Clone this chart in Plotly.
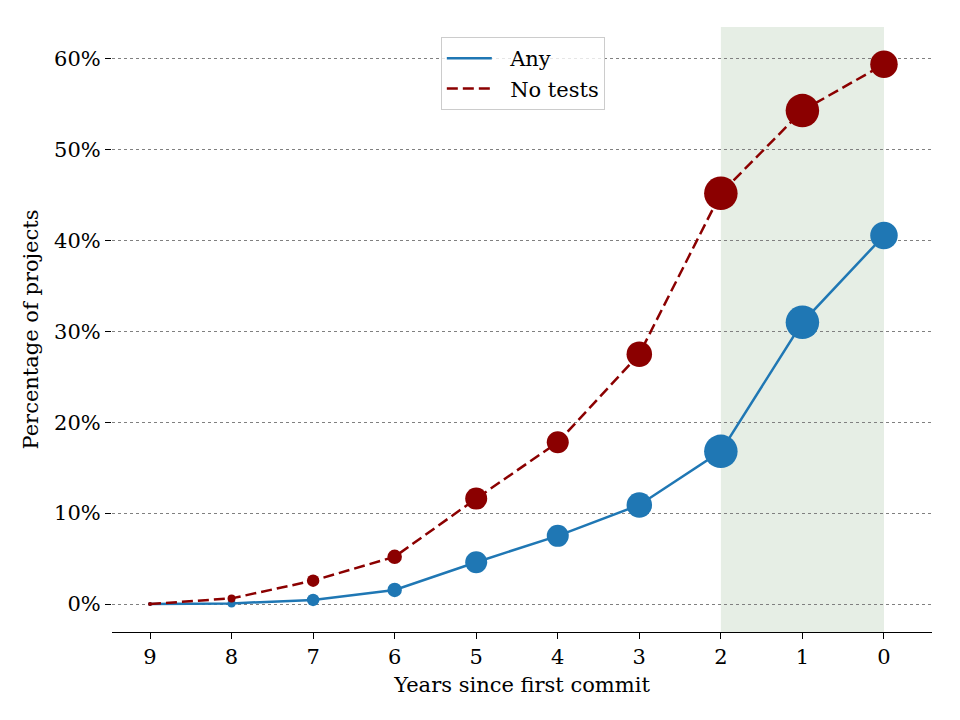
import plotly.graph_objects as go

years = [9, 8, 7, 6, 5, 4, 3, 2, 1, 0]
any_pct = [0.0, 0.07, 0.45, 1.55, 4.6, 7.5, 10.9, 16.8, 31.0, 40.55]
notests_pct = [0.0, 0.62, 2.57, 5.2, 11.6, 17.8, 27.5, 45.2, 54.3, 59.4]
marker_sizes = [4, 8, 12.5, 14.5, 22, 22, 25.5, 33.5, 33.5, 27.5]
y_ticks = [0, 10, 20, 30, 40, 50, 60]
y_labels = ["0%", "10%", "20%", "30%", "40%", "50%", "60%"]
series_names = ["Any", "No tests"]
shade_span = [2, 0]

FONT = "DejaVu Serif"
FS = 21
BLUE = "#1f77b4"
RED = "#8b0000"
DASH = "11px,5px"
PAD = "\u00a0\u00a0"

fig = go.Figure()

fig.add_vrect(x0=shade_span[0], x1=shade_span[1], fillcolor="#e6eee5",
              line_width=0, layer="below")

fig.add_trace(go.Scatter(
    x=years, y=any_pct, name=series_names[0], mode="lines+markers", showlegend=False,
    line=dict(color=BLUE, width=2.5),
    marker=dict(size=marker_sizes, color=BLUE, opacity=1, line=dict(width=0)),
))
fig.add_trace(go.Scatter(
    x=years, y=notests_pct, name=series_names[1], mode="lines+markers", showlegend=False,
    line=dict(color=RED, width=2.5, dash=DASH),
    marker=dict(size=marker_sizes, color=RED, opacity=1, line=dict(width=0)),
))
# legend-only entries (line samples without markers)
fig.add_trace(go.Scatter(x=[None], y=[None], name=PAD + series_names[0], mode="lines",
                         line=dict(color=BLUE, width=2.5)))
fig.add_trace(go.Scatter(x=[None], y=[None], name=PAD + series_names[1], mode="lines",
                         line=dict(color=RED, width=2.5, dash=DASH)))

fig.update_layout(
    width=960, height=720,
    margin=dict(l=112, r=28, t=27, b=88),
    plot_bgcolor="white", paper_bgcolor="white",
    font=dict(family=FONT, size=FS, color="black"),
    showlegend=True,
    legend=dict(
        x=0.401, y=0.9835, xanchor="left", yanchor="top",
        bordercolor="#cccccc", borderwidth=1, bgcolor="rgba(255,255,255,0.8)",
        font=dict(family=FONT, size=FS), itemwidth=45,
        tracegroupgap=0,
    ),
    xaxis=dict(
        range=[9.466, -0.589], tickvals=years, ticktext=[str(v) for v in years],
        showgrid=False, zeroline=False, showline=True, linecolor="black", linewidth=1.3,
        ticks="outside", ticklen=6, tickwidth=1.3, tickcolor="black",
        tickfont=dict(family=FONT, size=FS),
        title=dict(text="Years since first commit", font=dict(family=FONT, size=FS), standoff=8),
    ),
    yaxis=dict(
        range=[-3.08, 63.5], tickvals=y_ticks, ticktext=y_labels,
        showgrid=True, gridcolor="#808080", griddash="dot", gridwidth=1,
        zeroline=False, showline=False,
        ticks="outside", ticklen=6, tickwidth=1.3, tickcolor="black",
        tickfont=dict(family=FONT, size=FS),
        title=dict(text="Percentage of projects", font=dict(family=FONT, size=FS), standoff=9),
    ),
)

fig.write_html("out.html")
